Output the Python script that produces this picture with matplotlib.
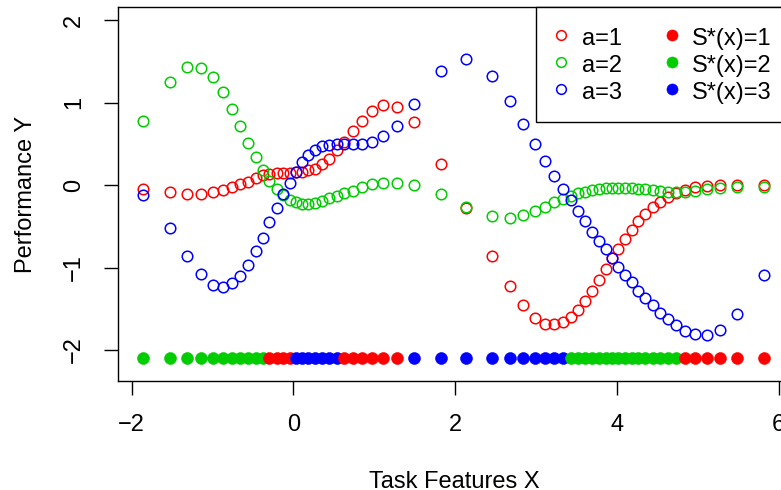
import matplotlib
matplotlib.use("Agg")
import matplotlib.pyplot as plt
from matplotlib.lines import Line2D
import numpy as np

plt.rcParams['font.family'] = ['Liberation Sans', 'DejaVu Sans']

# task features (sorted)
task_x = [-1.854, -1.524, -1.310, -1.141, -0.996, -0.873, -0.761, -0.659, -0.564, -0.465,
          -0.378, -0.297, -0.205, -0.124, -0.041, 0.030, 0.104, 0.185, 0.268, 0.358,
          0.445, 0.536, 0.627, 0.734, 0.845, 0.969, 1.112, 1.278, 1.496, 1.829,
          2.131, 2.460, 2.679, 2.843, 2.988, 3.111, 3.226, 3.330, 3.429, 3.523,
          3.606, 3.688, 3.779, 3.862, 3.943, 4.017, 4.100, 4.183, 4.264, 4.347,
          4.443, 4.533, 4.628, 4.730, 4.842, 4.965, 5.110, 5.274, 5.488, 5.818]

perf_a1 = [-0.05, -0.09, -0.11, -0.11, -0.09, -0.06, -0.02, 0.01, 0.04, 0.08,
           0.12, 0.13, 0.14, 0.145, 0.15, 0.155, 0.16, 0.18, 0.20, 0.25,
           0.32, 0.42, 0.52, 0.65, 0.78, 0.90, 0.97, 0.95, 0.76, 0.25,
           -0.28, -0.86, -1.22, -1.45, -1.61, -1.68, -1.69, -1.66, -1.60, -1.51,
           -1.40, -1.28, -1.15, -1.02, -0.89, -0.78, -0.65, -0.55, -0.44, -0.35,
           -0.27, -0.20, -0.14, -0.10, -0.06, -0.03, -0.01, 0.00, 0.00, 0.00]

perf_a2 = [0.78, 1.25, 1.43, 1.42, 1.31, 1.13, 0.92, 0.71, 0.51, 0.34,
           0.18, 0.05, -0.05, -0.12, -0.18, -0.21, -0.23, -0.23, -0.22, -0.19,
           -0.16, -0.13, -0.10, -0.07, -0.03, 0.01, 0.02, 0.03, 0.00, -0.11,
           -0.27, -0.38, -0.40, -0.36, -0.32, -0.27, -0.21, -0.17, -0.13, -0.10,
           -0.08, -0.06, -0.05, -0.04, -0.04, -0.04, -0.04, -0.04, -0.05, -0.05,
           -0.06, -0.07, -0.08, -0.09, -0.08, -0.07, -0.05, -0.04, -0.03, -0.02]

perf_a3 = [-0.12, -0.52, -0.86, -1.08, -1.21, -1.24, -1.19, -1.10, -0.97, -0.80,
           -0.64, -0.45, -0.28, -0.11, 0.03, 0.16, 0.28, 0.36, 0.43, 0.47,
           0.49, 0.50, 0.50, 0.50, 0.50, 0.52, 0.59, 0.72, 0.98, 1.38,
           1.53, 1.32, 1.02, 0.74, 0.50, 0.29, 0.11, -0.05, -0.18, -0.32,
           -0.44, -0.57, -0.68, -0.78, -0.89, -0.99, -1.09, -1.18, -1.28, -1.37,
           -1.45, -1.55, -1.63, -1.70, -1.77, -1.81, -1.82, -1.76, -1.56, -1.09]

arm_colors = ['#FF0000', '#00CD00', '#0000FF']
best_row_y = -2.1

# best arm for each task
best_arm = np.argmax(np.vstack([perf_a1, perf_a2, perf_a3]), axis=0)

fig = plt.figure(figsize=(7.81, 4.90), dpi=100)
ax = fig.add_axes([0.1515, 0.2224, 0.860, 0.7633])

for perf, col in zip([perf_a1, perf_a2, perf_a3], arm_colors):
    ax.plot(task_x, perf, linestyle='none', marker='o', ms=7.6, mfc='none',
            mec=col, mew=1.1)

for xi, arm in zip(task_x, best_arm):
    ax.plot(xi, best_row_y, linestyle='none', marker='o', ms=8.6,
            mfc=arm_colors[arm], mec=arm_colors[arm], mew=0.4)

ax.set_xlim(-2.163, 6.14)
ax.set_ylim(-2.376, 2.158)
ax.set_xticks([-2, 0, 2, 4, 6])
ax.set_xticklabels(['\u22122', '0', '2', '4', '6'])
ax.set_yticks([-2, -1, 0, 1, 2])
ax.set_yticklabels(['\u22122', '\u22121', '0', '1', '2'], rotation=90, va='center')
ax.tick_params(length=10, width=1.0, labelsize=17, pad=14)
for s in ax.spines.values():
    s.set_linewidth(1.0)

ax.set_xlabel('Task Features X', fontsize=17, labelpad=25)
ax.set_ylabel('Performance Y', fontsize=17, labelpad=19)

handles = [Line2D([], [], linestyle='none', marker='o', ms=7, mfc='none',
                  mec=c, mew=1.1) for c in arm_colors]
handles += [Line2D([], [], linestyle='none', marker='o', ms=8, mfc=c,
                   mec=c, mew=0.4) for c in arm_colors]
labels = ['a=1', 'a=2', 'a=3', 'S*(x)=1', 'S*(x)=2', 'S*(x)=3']
leg = ax.legend(handles, labels, ncol=2, loc='upper right', fontsize=17,
                bbox_to_anchor=(1.0, 1.0), borderaxespad=0, fancybox=False,
                framealpha=1, edgecolor='black', borderpad=0.77,
                labelspacing=0.09, handleheight=1.15, handlelength=0.55,
                handletextpad=0.6, columnspacing=1.83)
leg.get_frame().set_linewidth(1.0)

plt.savefig('out.png', dpi=100)
plt.close()
